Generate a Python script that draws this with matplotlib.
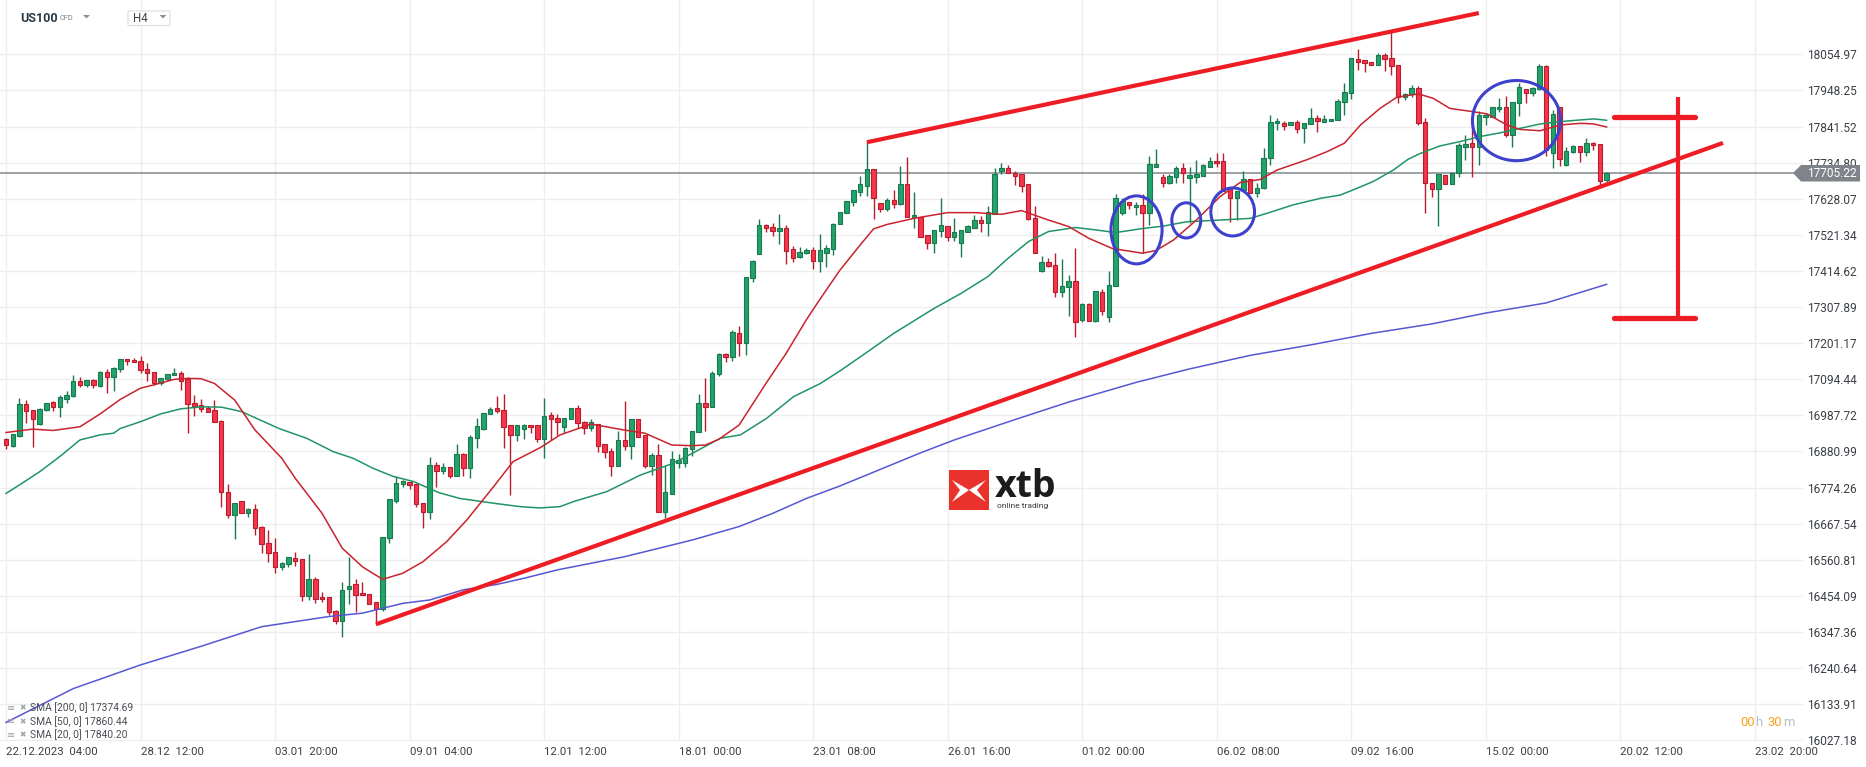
import matplotlib
matplotlib.use('Agg')
import matplotlib.pyplot as plt
from matplotlib.patches import Ellipse, Polygon, FancyBboxPatch
import numpy as np

plt.rcParams['font.family'] = ['Roboto', 'DejaVu Sans']

# ---- data (H4 candles, US100) ----
opens = [16918, 16898, 16928, 17020, 17003, 16961, 17003, 17026, 17012, 17037, 17044, 17088, 17077, 17091, 17074, 17115, 17100, 17124, 17153, 17150,
         17148, 17124, 17115, 17083, 17094, 17106, 17112, 17095, 17023, 17017, 17009, 17003, 16971, 16760, 16692, 16734, 16698, 16710, 16657, 16610,
         16584, 16540, 16547, 16567, 16562, 16455, 16503, 16450, 16450, 16409, 16380, 16473, 16488, 16462, 16459, 16435, 16416, 16624, 16736, 16784,
         16792, 16784, 16728, 16701, 16840, 16824, 16834, 16807, 16874, 16831, 16920, 16948, 16992, 17009, 17004, 16958, 16929, 16946, 16958, 16958,
         16919, 16988, 16979, 16952, 16976, 17009, 16969, 16949, 16961, 16902, 16881, 16839, 16914, 16898, 16976, 16929, 16839, 16870, 16701, 16755,
         16848, 16848, 16887, 16938, 17025, 17013, 17109, 17168, 17159, 17232, 17203, 17393, 17464, 17549, 17544, 17534, 17541, 17479, 17457, 17467,
         17476, 17445, 17469, 17479, 17552, 17585, 17617, 17649, 17667, 17715, 17614, 17599, 17623, 17613, 17672, 17573, 17573, 17520, 17496, 17533,
         17547, 17516, 17498, 17530, 17543, 17565, 17555, 17583, 17711, 17718, 17705, 17701, 17672, 17570, 17413, 17440, 17432, 17353, 17366, 17385,
         17270, 17317, 17268, 17351, 17278, 17370, 17585, 17619, 17603, 17609, 17587, 17723, 17693, 17676, 17691, 17718, 17688, 17693, 17696, 17721,
         17740, 17740, 17656, 17629, 17654, 17687, 17646, 17661, 17748, 17851, 17853, 17845, 17856, 17836, 17848, 17868, 17856, 17858, 17861, 17915,
         17940, 18040, 18038, 18033, 18022, 18053, 18043, 18022, 17928, 17938, 17954, 17855, 17674, 17656, 17697, 17671, 17703, 17782, 17792, 17782,
         17869, 17871, 17892, 17898, 17816, 17912, 17952, 17940, 17952, 18021, 17762, 17900, 17728, 17765, 17784, 17767, 17792, 17789, 17682]
highs = [16922, 16934, 17038, 17033, 17003, 17009, 17025, 17030, 17048, 17060, 17107, 17100, 17093, 17096, 17118, 17125, 17132, 17155, 17155, 17156,
         17163, 17142, 17115, 17097, 17109, 17128, 17118, 17102, 17048, 17036, 17016, 17033, 16974, 16785, 16730, 16734, 16713, 16726, 16661, 16649,
         16625, 16555, 16568, 16583, 16562, 16578, 16509, 16467, 16452, 16412, 16495, 16570, 16503, 16495, 16459, 16435, 16627, 16740, 16807, 16797,
         16792, 16784, 16728, 16864, 16851, 16846, 16834, 16903, 16877, 16930, 16981, 16994, 17011, 17046, 17051, 16958, 16959, 16962, 16958, 16958,
         17038, 16999, 16991, 16979, 17009, 17017, 16972, 16977, 16961, 16902, 16890, 16942, 17030, 16976, 16976, 16929, 16877, 16902, 16838, 16882,
         16873, 16895, 16941, 17050, 17097, 17120, 17171, 17173, 17240, 17252, 17396, 17447, 17567, 17552, 17557, 17583, 17549, 17488, 17484, 17481,
         17486, 17524, 17491, 17557, 17590, 17621, 17653, 17695, 17795, 17715, 17614, 17629, 17654, 17725, 17750, 17649, 17573, 17520, 17536, 17631,
         17547, 17570, 17536, 17550, 17580, 17577, 17607, 17718, 17733, 17728, 17711, 17701, 17672, 17607, 17459, 17452, 17467, 17450, 17403, 17483,
         17321, 17319, 17354, 17360, 17413, 17642, 17629, 17619, 17619, 17642, 17754, 17774, 17701, 17701, 17726, 17733, 17722, 17743, 17730, 17752,
         17764, 17764, 17656, 17651, 17711, 17687, 17676, 17777, 17876, 17866, 17858, 17856, 17861, 17853, 17895, 17876, 17876, 17864, 17923, 17971,
         18043, 18070, 18038, 18033, 18058, 18058, 18122, 18022, 17942, 17963, 17962, 17866, 17674, 17700, 17697, 17708, 17794, 17817, 17846, 17886,
         17881, 17900, 17925, 17932, 17914, 17969, 17952, 17959, 18026, 18023, 17890, 17900, 17782, 17787, 17784, 17807, 17797, 17789, 17707]
lows = [16889, 16895, 16925, 16966, 16895, 16959, 17001, 17002, 16984, 17023, 17043, 17073, 17073, 17070, 17072, 17055, 17061, 17117, 17137, 17145,
        17114, 17090, 17077, 17077, 17091, 17106, 17063, 16937, 16986, 16999, 16999, 16967, 16718, 16683, 16622, 16698, 16686, 16634, 16580, 16553,
        16521, 16531, 16538, 16543, 16440, 16442, 16434, 16435, 16398, 16370, 16332, 16429, 16406, 16456, 16429, 16373, 16410, 16609, 16730, 16777,
        16771, 16718, 16656, 16680, 16777, 16814, 16804, 16807, 16807, 16802, 16890, 16944, 16992, 16994, 16890, 16751, 16913, 16918, 16937, 16908,
        16863, 16915, 16930, 16935, 16976, 16949, 16933, 16940, 16880, 16863, 16809, 16839, 16885, 16860, 16925, 16833, 16811, 16701, 16685, 16755,
        16832, 16836, 16868, 16938, 16940, 17013, 17105, 17146, 17149, 17164, 17167, 17383, 17464, 17531, 17519, 17493, 17434, 17442, 17452, 17465,
        17420, 17411, 17427, 17462, 17552, 17585, 17607, 17637, 17636, 17568, 17590, 17593, 17602, 17610, 17573, 17543, 17514, 17479, 17467, 17516,
        17504, 17504, 17457, 17529, 17541, 17529, 17519, 17583, 17700, 17703, 17669, 17647, 17565, 17467, 17410, 17427, 17339, 17339, 17282, 17220,
        17265, 17268, 17265, 17284, 17263, 17370, 17580, 17597, 17580, 17467, 17550, 17723, 17664, 17672, 17676, 17676, 17555, 17674, 17696, 17721,
        17723, 17652, 17560, 17565, 17654, 17646, 17634, 17656, 17728, 17831, 17831, 17845, 17823, 17794, 17848, 17826, 17856, 17858, 17861, 17876,
        17923, 18009, 18004, 18022, 18022, 18007, 17994, 17912, 17920, 17928, 17845, 17587, 17632, 17546, 17671, 17671, 17693, 17743, 17691, 17728,
        17846, 17871, 17883, 17812, 17782, 17873, 17912, 17932, 17950, 17754, 17718, 17725, 17725, 17762, 17738, 17754, 17772, 17666, 17669]
closes = [16899, 16932, 17020, 17000, 16976, 17006, 17023, 17011, 17041, 17047, 17088, 17076, 17091, 17076, 17115, 17100, 17129, 17153, 17147, 17145,
          17121, 17112, 17084, 17097, 17109, 17113, 17090, 17020, 17014, 17006, 16999, 16967, 16760, 16692, 16730, 16698, 16710, 16654, 16607, 16580,
          16538, 16550, 16568, 16558, 16455, 16503, 16445, 16445, 16406, 16380, 16471, 16484, 16456, 16456, 16431, 16416, 16627, 16740, 16787, 16794,
          16781, 16725, 16701, 16840, 16824, 16834, 16807, 16874, 16833, 16923, 16956, 16994, 17006, 17000, 16952, 16929, 16959, 16958, 16952, 16919,
          16986, 16976, 16967, 16979, 17009, 16966, 16949, 16967, 16898, 16878, 16839, 16914, 16898, 16976, 16925, 16839, 16870, 16701, 16760, 16858,
          16855, 16890, 16941, 17025, 17011, 17114, 17168, 17159, 17235, 17201, 17396, 17444, 17549, 17541, 17534, 17541, 17475, 17452, 17470, 17476,
          17445, 17476, 17481, 17554, 17588, 17621, 17653, 17672, 17715, 17629, 17599, 17623, 17613, 17672, 17573, 17580, 17516, 17496, 17536, 17549,
          17516, 17530, 17536, 17547, 17565, 17555, 17588, 17701, 17718, 17703, 17696, 17667, 17567, 17467, 17440, 17429, 17353, 17370, 17385, 17263,
          17317, 17268, 17354, 17297, 17373, 17629, 17621, 17609, 17609, 17587, 17731, 17731, 17676, 17695, 17718, 17703, 17698, 17701, 17728, 17740,
          17733, 17652, 17629, 17651, 17687, 17646, 17661, 17748, 17854, 17858, 17843, 17856, 17835, 17851, 17868, 17859, 17863, 17864, 17917, 17943,
          18043, 18033, 18030, 18022, 18053, 18040, 18020, 17928, 17938, 17954, 17851, 17674, 17656, 17700, 17671, 17705, 17786, 17790, 17782, 17875,
          17875, 17898, 17898, 17816, 17914, 17957, 17940, 17954, 18021, 17772, 17879, 17745, 17769, 17784, 17767, 17792, 17786, 17679, 17705]

# moving averages (bar index, value)
sma20_idx = [0, 4, 7, 11, 14, 17, 20, 22, 25, 27, 29, 31, 34, 37, 41, 43, 47, 50, 53, 56, 59, 62, 65.5, 68.5, 72.5, 75.4, 79.5, 82.4,
             87, 92, 95, 99, 102, 104, 106, 109, 113, 116, 119, 121, 124, 127, 129, 131, 135, 140, 144, 148, 151, 155, 158, 161, 164.5,
             169, 171, 173.6, 177, 180.5, 183.5, 186.5, 189, 193.4, 196.4, 199, 201.4, 204.3, 206.8, 210, 212.2, 214.7, 217.2, 220.2,
             223.2, 225.1, 228.1, 231.1, 234.1, 236.1, 238]
sma20_val = [16937, 16947, 16943, 16954, 16992, 17035, 17068, 17078, 17094, 17097, 17096, 17082, 17033, 16945, 16861, 16802, 16698, 16595,
             16540, 16503, 16521, 16555, 16614, 16678, 16777, 16851, 16893, 16930, 16962, 16944, 16935, 16900, 16898, 16900, 16917, 16959,
             17082, 17171, 17270, 17330, 17417, 17491, 17539, 17552, 17570, 17587, 17587, 17582, 17593, 17565, 17546, 17511, 17481, 17467,
             17475, 17506, 17565, 17634, 17676, 17685, 17713, 17743, 17767, 17792, 17846, 17895, 17928, 17938, 17925, 17895, 17888, 17879,
             17846, 17833, 17829, 17846, 17851, 17849, 17840]
sma50_idx = [0, 2, 5, 8, 11, 14, 16, 17, 20, 23, 26, 29, 32, 35, 38, 40.7, 44.7, 48.7, 51.6, 54.6, 57.6, 60.6, 64.4, 67.5, 72.5, 76.4,
             79.4, 82.4, 84.4, 89.3, 94.3, 99.2, 102, 106.2, 109.2, 113.1, 117.1, 121.1, 124, 128.5, 132, 138, 142, 146, 149, 152, 155,
             159, 162, 165, 169, 172, 175.6, 180.5, 185, 187.5, 191.4, 195.4, 198.4, 200.9, 203.3, 206.3, 208.5, 210.3, 213.2, 216.2,
             219.2, 222.2, 225.1, 228.1, 231.1, 234.1, 236.1, 238]
sma50_val = [16757, 16782, 16821, 16866, 16915, 16930, 16935, 16949, 16969, 16992, 17007, 17013, 17012, 16999, 16972, 16948, 16920, 16880,
             16861, 16831, 16807, 16792, 16759, 16742, 16728, 16718, 16714, 16718, 16733, 16762, 16811, 16846, 16875, 16920, 16930, 16979,
             17043, 17082, 17119, 17181, 17230, 17304, 17348, 17398, 17452, 17501, 17531, 17543, 17536, 17528, 17540, 17547, 17560, 17565,
             17570, 17585, 17610, 17629, 17639, 17659, 17679, 17713, 17745, 17762, 17784, 17797, 17812, 17823, 17836, 17849, 17856, 17861,
             17864, 17860]
sma200_idx = [0, 10, 20, 29, 38, 44, 48, 53, 59, 63, 68, 73, 77, 82, 92, 102, 109, 114, 119, 124, 136, 141, 150, 158, 168, 176, 185, 194,
              203, 212, 220, 229, 238]
sma200_val = [16080, 16180, 16250, 16305, 16363, 16381, 16393, 16403, 16432, 16442, 16472, 16488, 16506, 16531, 16570, 16619, 16659, 16698,
              16742, 16779, 16877, 16915, 16975, 17027, 17085, 17125, 17165, 17196, 17230, 17258, 17290, 17320, 17375]

y_ticks = ['16027.18', '16133.91', '16240.64', '16347.36', '16454.09', '16560.81', '16667.54', '16774.26', '16880.99', '16987.72',
           '17094.44', '17201.17', '17307.89', '17414.62', '17521.34', '17628.07', '17734.80', '17841.52', '17948.25', '18054.97']
x_labels = ['22.12.2023  04:00', '28.12  12:00', '03.01  20:00', '09.01  04:00', '12.01  12:00', '18.01  00:00', '23.01  08:00',
            '26.01  16:00', '01.02  00:00', '06.02  08:00', '09.02  16:00', '15.02  00:00', '20.02  12:00', '23.02  20:00']
last_price = 17705.22
legend_rows = ['SMA [200, 0] 17374.69', 'SMA [50, 0] 17860.44', 'SMA [20, 0] 17840.20']

# ---- figure ----
W, H = 1866, 767
fig = plt.figure(figsize=(W / 100, H / 100), dpi=100)
ax = fig.add_axes([0, (H - 741) / H, 1803 / W, 741 / H])
ax.set_xlim(-0.892, 267.2)
ax.set_ylim(16025.1, 18215.5)
for s in ax.spines.values():
    s.set_visible(False)

def fx(x):
    return x / W

def fy(y):
    return 1 - y / H

# grid + ticks
ax.set_yticks([float(t) for t in y_ticks])
ax.set_yticklabels(y_ticks)
ax.yaxis.tick_right()
ax.set_xticks(np.arange(0, 20 * len(x_labels), 20))
ax.set_xticklabels(x_labels, ha='left')
ax.tick_params(axis='y', length=0, pad=3, labelsize=8.6, labelcolor='#3b4046')
ax.tick_params(axis='x', length=0, pad=4, labelsize=8.2, labelcolor='#3b4046')
ax.grid(True, color='#eeeeee', lw=1.0, zorder=0)
ax.set_axisbelow(True)

# candles
idx = np.arange(len(closes))
o = np.array(opens, float); c = np.array(closes, float)
h = np.array(highs, float); l = np.array(lows, float)
up = c >= o
fill = np.where(up, '#23a36b', '#f5354c')
edge = np.where(up, '#187a4e', '#b81c2d')
ax.vlines(idx, l, h, colors=edge, lw=1.0, zorder=3)
ax.bar(idx, np.maximum(np.abs(c - o), 2.5), bottom=np.minimum(o, c), width=0.66,
       color=fill, edgecolor=edge, linewidth=0.8, zorder=4)

# moving averages
ax.plot(sma200_idx, sma200_val, color='#5558d2', lw=1.1, zorder=5)
ax.plot(sma50_idx, sma50_val, color='#219465', lw=1.1, zorder=5)
ax.plot(sma20_idx, sma20_val, color='#c9232d', lw=1.1, zorder=5)

# last price line
ax.axhline(last_price, color='#8b9196', lw=1.2, zorder=2)

# trend lines and measure
red = '#ee1d25'
ax.plot([55.0, 255.3], [16370, 17793], color=red, lw=3.0, zorder=6, solid_capstyle='butt')
ax.plot([128.0, 219.0], [17795, 18177], color=red, lw=3.0, zorder=6, solid_capstyle='butt')
ax.plot([248.6, 248.6], [17268, 17929], color=red, lw=3.0, zorder=6, solid_capstyle='butt')
ax.plot([239.1, 251.2], [17870, 17870], color=red, lw=3.8, zorder=6, solid_capstyle='round')
ax.plot([239.1, 251.2], [17275, 17275], color=red, lw=3.8, zorder=6, solid_capstyle='round')

# circles
blue = '#3d41cb'
for cx, cy, ew, eh in [(168.1, 17536, 7.6, 201), (175.5, 17564, 4.3, 104),
                       (182.4, 17589, 6.5, 142), (224.6, 17859, 13.1, 237)]:
    ax.add_patch(Ellipse((cx, cy), ew, eh, fill=False, ec=blue, lw=2.2, zorder=7))

# price tag
tag = Polygon([[fx(1793), fy(173)], [fx(1801), fy(165)], [fx(1860), fy(165)], [fx(1860), fy(181.5)],
               [fx(1801), fy(181.5)]], closed=True, transform=fig.transFigure, fc='#7e8489', ec='none', zorder=3)
fig.patches.append(tag)
fig.text(fx(1807), fy(173.5), f'{last_price:.2f}', color='white', fontsize=8.6, va='center', ha='left', zorder=4)

# header
fig.text(fx(20), fy(18.5), 'US100', fontsize=9, fontweight='bold', color='#2b3945', va='center')
fig.text(fx(60), fy(19), 'CFD', fontsize=5.3, color='#7b8287', va='center')
fig.patches.append(Polygon([[fx(83), fy(15)], [fx(90), fy(15)], [fx(86.5), fy(18.5)]], closed=True,
                           transform=fig.transFigure, fc='#8c9196', ec='none'))
fig.patches.append(FancyBboxPatch((fx(128), fy(25.5)), fx(42), 14.5 / H, boxstyle='round,pad=0,rounding_size=0.001',
                                  transform=fig.transFigure, fc='white', ec='#d9dcde', lw=0.8))
fig.text(fx(133), fy(19), 'H4', fontsize=8.3, color='#3b4046', va='center')
fig.patches.append(Polygon([[fx(159.5), fy(15)], [fx(166.5), fy(15)], [fx(163), fy(18.5)]], closed=True,
                           transform=fig.transFigure, fc='#8c9196', ec='none'))

# legend (bottom left)
for k, row in enumerate(legend_rows):
    yy = 708 + k * 13.3
    fig.text(fx(7), fy(yy), '≡', fontsize=7, color='#a0a4a8', va='center', family=['DejaVu Sans'])
    fig.text(fx(19), fy(yy), '✖', fontsize=5.5, color='#a0a4a8', va='center', family=['DejaVu Sans'])
    fig.text(fx(30), fy(yy), row, fontsize=7.4, color='#4a4f55', va='center', family=['Roboto'])

# countdown
fig.text(fx(1740), fy(723), '00', fontsize=9.3, color='#f7a21b', va='center')
fig.text(fx(1755), fy(723), 'h', fontsize=9.3, color='#b9bdc1', va='center')
fig.text(fx(1767), fy(723), '30', fontsize=9.3, color='#f7a21b', va='center')
fig.text(fx(1783), fy(723), 'm', fontsize=9.3, color='#b9bdc1', va='center')

# xtb logo
fig.patches.append(FancyBboxPatch((fx(949), fy(510)), fx(40), 40 / H, boxstyle='square,pad=0',
                                  transform=fig.transFigure, fc='#e8322b', ec='none'))
for pts in ([[952, 480], [969, 490], [952, 502], [960, 490]], [[986, 480], [969, 490], [986, 502], [977, 490]]):
    fig.patches.append(Polygon([[fx(a), fy(b)] for a, b in pts], closed=True, transform=fig.transFigure,
                               fc='white', ec='none'))
fig.text(fx(995), fy(497), 'xtb', fontsize=27, fontweight='bold', color='#1c1c1c', va='baseline',
         family=['Open Sans', 'DejaVu Sans'])
fig.text(fx(997), fy(506), 'online trading', fontsize=6, color='#3a3a3a', va='center')

fig.savefig('out.png', dpi=100, facecolor='white')
